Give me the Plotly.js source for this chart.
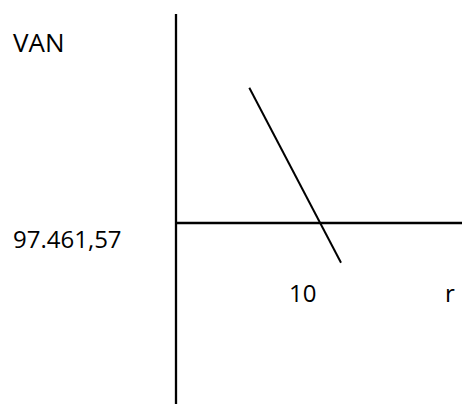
<!DOCTYPE html>
<html>
<head>
<meta charset="utf-8">
<script src="https://cdn.plot.ly/plotly-3.0.1.min.js"></script>
<style>
  html, body { margin: 0; padding: 0; background: #fff; }
  #chart { width: 462px; height: 404px; }
</style>
</head>
<body>
<div id="chart"></div>
<script>
// ---- data ----
const rValues   = [5.09, 11.46];     // discount rate (r)
const vanValues = [135.3, -39.7];    // VAN (net present value), diagram units
const yLabel    = "VAN";
const xLabel    = "r";
const vanLabel  = "97.461,57";
const rLabel    = "10";

// ---- layout helpers (pixel -> paper) ----
const W = 462, H = 404;
const px = x => x / W;
const py = y => 1 - y / H;
const FONT = "Open Sans, Liberation Sans, sans-serif";

const xRange = [-176 / 14.4, (462 - 176) / 14.4];
const yRange = [-(404 - 223), 223];

const trace = {
  x: rValues, y: vanValues, type: "scatter", mode: "lines",
  line: { color: "#000", width: 2 }, hoverinfo: "skip", showlegend: false
};

const layout = {
  width: W, height: H,
  margin: { l: 0, r: 0, t: 0, b: 0, pad: 0 },
  paper_bgcolor: "#fff", plot_bgcolor: "#fff",
  xaxis: { range: xRange, visible: false, fixedrange: true },
  yaxis: { range: yRange, visible: false, fixedrange: true },
  shapes: [
    { type: "line", xref: "x", yref: "y", x0: 0, x1: 0, y0: yRange[0], y1: 223 - 14,
      line: { color: "#000", width: 2.3 } },
    { type: "line", xref: "x", yref: "y", x0: 0, x1: xRange[1], y0: 0, y1: 0,
      line: { color: "#000", width: 2.3 } }
  ],
  annotations: [
    { text: yLabel, xref: "paper", yref: "paper", x: px(11), y: py(42.5),
      xanchor: "left", yanchor: "middle", showarrow: false,
      font: { family: FONT, size: 26, color: "#000" } },
    { text: vanLabel, xref: "paper", yref: "paper", x: px(11), y: py(238.3),
      xanchor: "left", yanchor: "middle", showarrow: false,
      font: { family: FONT, size: 24, color: "#000" } },
    { text: rLabel, xref: "paper", yref: "paper", x: px(286.5), y: py(292.3),
      xanchor: "left", yanchor: "middle", showarrow: false,
      font: { family: FONT, size: 24, color: "#000" } },
    { text: xLabel, xref: "paper", yref: "paper", x: px(442.5), y: py(292.3),
      xanchor: "left", yanchor: "middle", showarrow: false,
      font: { family: FONT, size: 24, color: "#000" } }
  ]
};

Plotly.newPlot("chart", [trace], layout, { staticPlot: true, displayModeBar: false });
</script>
</body>
</html>
